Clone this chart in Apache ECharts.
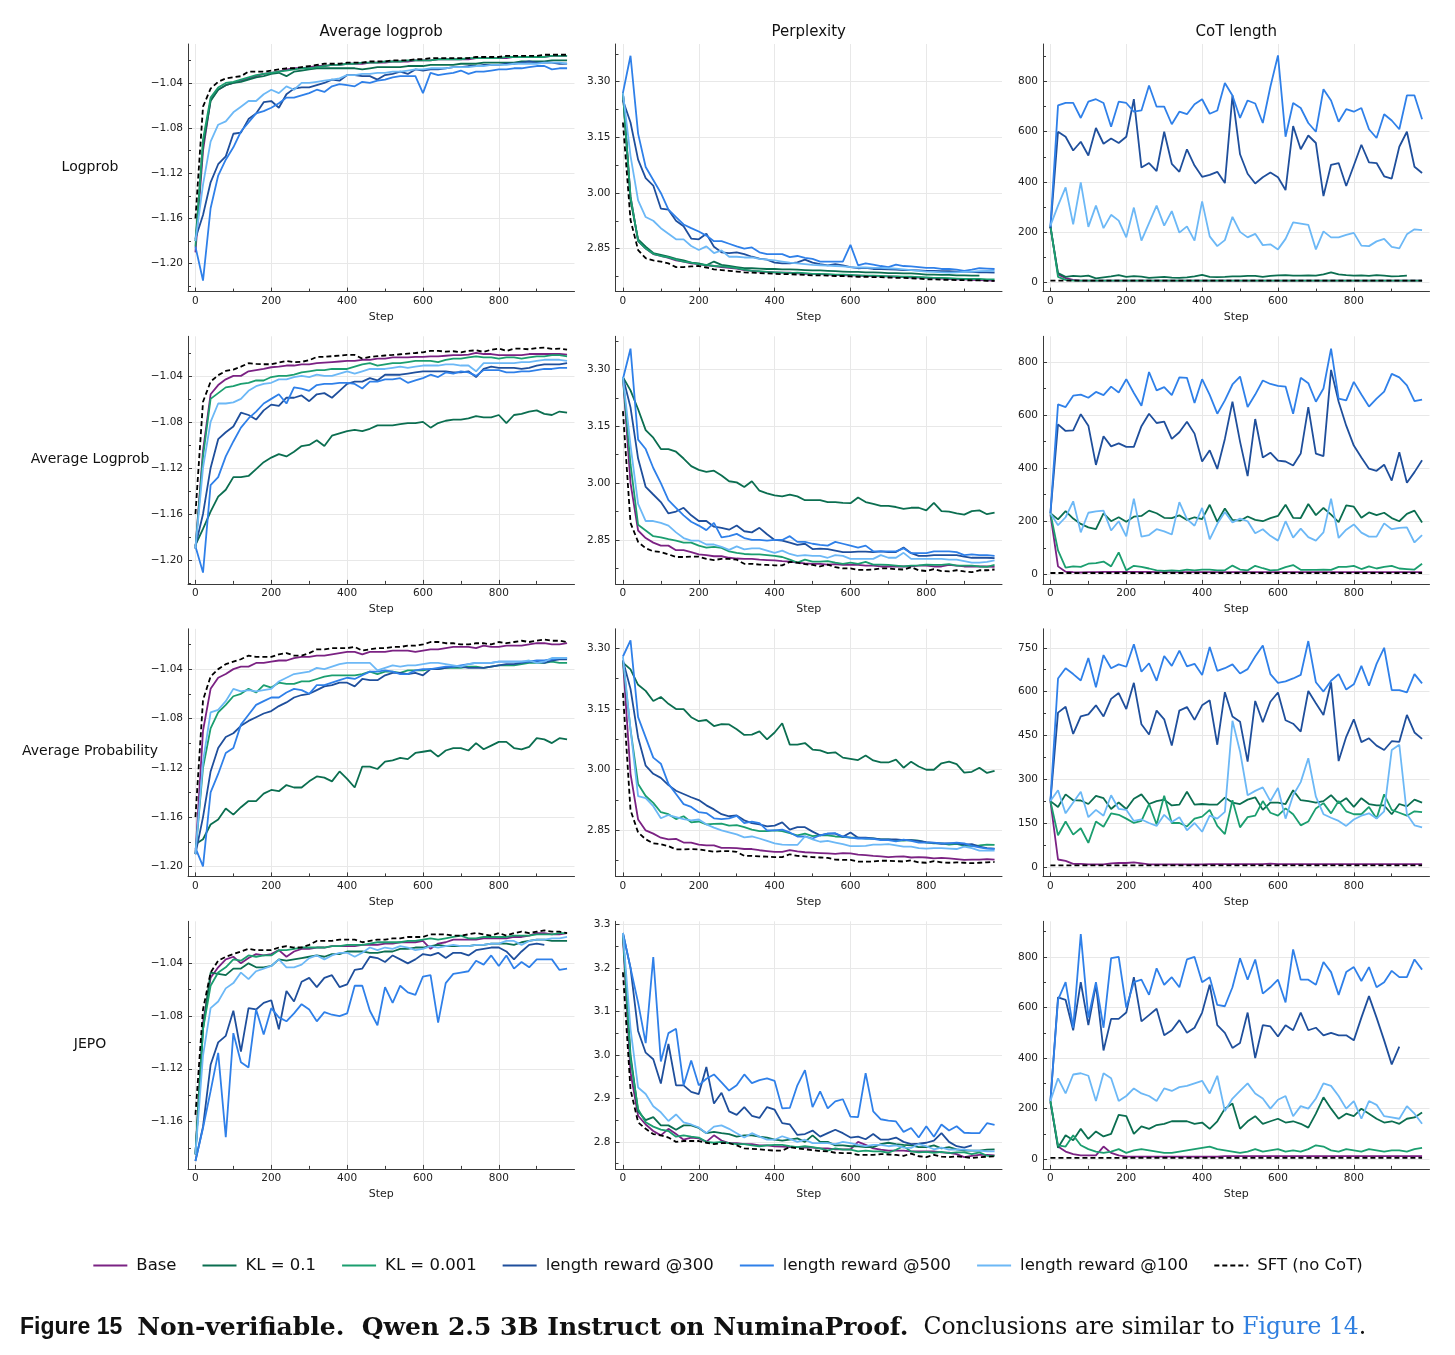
<!DOCTYPE html>
<html>
<head>
<meta charset="utf-8">
<script src="https://cdn.jsdelivr.net/npm/echarts@6/dist/echarts.min.js"></script>
<style>
  html, body { margin: 0; padding: 0; background: #fff; }
  #chart { width: 1455px; height: 1355px; }
</style>
</head>
<body>
<div id="chart"></div>
<script>
// x positions of the points (training step)
const steps = [0,20,40,60,80,100,120,140,160,180,200,220,240,260,280,300,320,340,360,380,
  400,420,440,460,480,500,520,540,560,580,600,620,640,660,680,700,720,740,760,780,
  800,820,840,860,880,900,920,940,960,980];

const seriesNames = ['Base', 'KL = 0.1', 'KL = 0.001', 'length reward @300', 'length reward @500', 'length reward @100', 'SFT (no CoT)'];
const colTitles = ['Average logprob', 'Perplexity', 'CoT length'];
const rowTitles = ['Logprob', 'Average Logprob', 'Average Probability', 'JEPO'];

// tick labels
const stepTicks = [0, 200, 400, 600, 800];
const stepMinor = [100, 300, 500, 700, 900];
const logprobTicks = [-1.20, -1.16, -1.12, -1.08, -1.04];
const logprobMinor = [-1.22, -1.18, -1.14, -1.10, -1.06, -1.02];
const pplTicks = [2.85, 3.00, 3.15, 3.30];
const pplMinor = [2.775, 2.925, 3.075, 3.225, 3.375];
const pplTicksJepo = [2.8, 2.9, 3.0, 3.1, 3.2, 3.3];
const pplMinorJepo = [2.75, 2.85, 2.95, 3.05, 3.15, 3.25];
const cotTicks = [0, 200, 400, 600, 800];
const cotMinor = [100, 300, 500, 700, 900];
const cotTicksProb = [0, 150, 300, 450, 600, 750];
const cotMinorProb = [75, 225, 375, 525, 675];

// ---------- row 1: Logprob ----------
const r1LpBase = [-1.190,-1.100,-1.055,-1.046,-1.042,-1.040,-1.038,-1.036,-1.034,-1.032,
  -1.031,-1.030,-1.028,-1.027,-1.027,-1.026,-1.025,-1.025,-1.024,-1.024,
  -1.023,-1.023,-1.023,-1.022,-1.022,-1.022,-1.021,-1.021,-1.021,-1.020,
  -1.020,-1.020,-1.019,-1.019,-1.019,-1.019,-1.019,-1.018,-1.018,-1.018,
  -1.018,-1.018,-1.017,-1.017,-1.017,-1.017,-1.017,-1.016,-1.016,-1.016];
const r1LpKl01 = [-1.180,-1.095,-1.056,-1.046,-1.042,-1.040,-1.039,-1.037,-1.035,-1.034,
  -1.032,-1.031,-1.034,-1.030,-1.029,-1.028,-1.027,-1.027,-1.027,-1.027,
  -1.027,-1.027,-1.028,-1.027,-1.026,-1.026,-1.026,-1.026,-1.025,-1.025,
  -1.025,-1.024,-1.024,-1.024,-1.024,-1.023,-1.023,-1.023,-1.022,-1.022,
  -1.022,-1.022,-1.022,-1.021,-1.021,-1.021,-1.021,-1.020,-1.020,-1.020];
const r1LpKl0001 = [-1.185,-1.090,-1.053,-1.044,-1.040,-1.039,-1.037,-1.035,-1.033,-1.032,
  -1.031,-1.030,-1.029,-1.028,-1.027,-1.027,-1.026,-1.025,-1.024,-1.024,
  -1.023,-1.023,-1.022,-1.022,-1.022,-1.021,-1.021,-1.021,-1.020,-1.020,
  -1.020,-1.020,-1.019,-1.019,-1.019,-1.019,-1.018,-1.018,-1.018,-1.018,
  -1.018,-1.017,-1.017,-1.017,-1.017,-1.017,-1.017,-1.016,-1.016,-1.016];
const r1LpLr300 = [-1.178,-1.157,-1.128,-1.112,-1.105,-1.085,-1.084,-1.072,-1.067,-1.057,
  -1.056,-1.062,-1.050,-1.045,-1.044,-1.044,-1.042,-1.040,-1.037,-1.038,
  -1.033,-1.033,-1.034,-1.034,-1.037,-1.033,-1.032,-1.030,-1.032,-1.028,
  -1.029,-1.028,-1.028,-1.027,-1.026,-1.026,-1.025,-1.025,-1.024,-1.024,
  -1.024,-1.023,-1.023,-1.022,-1.021,-1.022,-1.022,-1.022,-1.023,-1.023];
const r1LpLr500 = [-1.185,-1.215,-1.151,-1.122,-1.108,-1.097,-1.083,-1.075,-1.067,-1.065,
  -1.062,-1.058,-1.053,-1.053,-1.051,-1.049,-1.046,-1.048,-1.043,-1.041,
  -1.042,-1.043,-1.039,-1.040,-1.038,-1.037,-1.035,-1.034,-1.034,-1.034,
  -1.049,-1.031,-1.033,-1.032,-1.031,-1.029,-1.032,-1.030,-1.030,-1.029,
  -1.028,-1.028,-1.027,-1.027,-1.026,-1.025,-1.025,-1.028,-1.027,-1.027];
const r1LpLr100 = [-1.180,-1.130,-1.092,-1.077,-1.074,-1.066,-1.061,-1.056,-1.056,-1.050,
  -1.046,-1.049,-1.043,-1.046,-1.040,-1.040,-1.039,-1.038,-1.037,-1.036,
  -1.033,-1.033,-1.032,-1.032,-1.031,-1.031,-1.030,-1.030,-1.029,-1.028,
  -1.028,-1.027,-1.027,-1.027,-1.026,-1.026,-1.026,-1.025,-1.025,-1.024,
  -1.024,-1.024,-1.023,-1.023,-1.023,-1.023,-1.022,-1.022,-1.022,-1.023];
const r1LpSft = [-1.160,-1.061,-1.045,-1.039,-1.036,-1.035,-1.034,-1.030,-1.030,-1.030,
  -1.029,-1.028,-1.027,-1.027,-1.026,-1.025,-1.024,-1.023,-1.023,-1.023,
  -1.022,-1.022,-1.022,-1.021,-1.021,-1.021,-1.020,-1.020,-1.020,-1.019,
  -1.019,-1.018,-1.018,-1.018,-1.018,-1.018,-1.018,-1.017,-1.017,-1.017,
  -1.017,-1.016,-1.016,-1.016,-1.016,-1.016,-1.015,-1.015,-1.015,-1.015];

const r1PpBase = [3.270,2.990,2.870,2.850,2.835,2.830,2.825,2.818,2.815,2.810,
  2.808,2.805,2.803,2.800,2.798,2.796,2.792,2.790,2.788,2.787,
  2.786,2.785,2.785,2.783,2.782,2.782,2.781,2.780,2.779,2.778,
  2.778,2.777,2.776,2.776,2.775,2.775,2.774,2.773,2.772,2.772,
  2.771,2.770,2.769,2.768,2.767,2.767,2.766,2.765,2.764,2.763];
const r1PpKl01 = [3.270,2.980,2.875,2.855,2.838,2.833,2.828,2.822,2.818,2.812,
  2.810,2.805,2.815,2.806,2.803,2.800,2.797,2.797,2.796,2.795,
  2.795,2.794,2.794,2.793,2.792,2.791,2.791,2.790,2.789,2.788,
  2.787,2.787,2.786,2.786,2.785,2.784,2.784,2.783,2.783,2.782,
  2.780,2.780,2.779,2.779,2.778,2.778,2.777,2.777];
const r1PpKl0001 = [3.270,2.990,2.870,2.850,2.836,2.830,2.826,2.820,2.815,2.812,
  2.808,2.806,2.803,2.802,2.800,2.797,2.793,2.790,2.789,2.787,
  2.786,2.785,2.784,2.785,2.784,2.782,2.782,2.781,2.780,2.780,
  2.779,2.778,2.777,2.777,2.776,2.775,2.775,2.774,2.774,2.773,
  2.772,2.771,2.771,2.770,2.769,2.768,2.768,2.768,2.767,2.767];
const r1PpLr300 = [3.250,3.190,3.090,3.040,3.020,2.958,2.955,2.925,2.910,2.877,
  2.875,2.890,2.855,2.840,2.838,2.840,2.835,2.828,2.823,2.820,
  2.812,2.810,2.810,2.813,2.820,2.812,2.808,2.805,2.808,2.805,
  2.800,2.797,2.798,2.795,2.795,2.794,2.793,2.792,2.792,2.791,
  2.790,2.790,2.789,2.789,2.788,2.788,2.787,2.786,2.786,2.785];
const r1PpLr500 = [3.270,3.370,3.160,3.070,3.035,3.000,2.955,2.935,2.915,2.905,
  2.896,2.885,2.870,2.870,2.863,2.856,2.850,2.853,2.840,2.835,
  2.835,2.835,2.827,2.830,2.825,2.822,2.815,2.815,2.815,2.815,
  2.860,2.805,2.810,2.807,2.803,2.800,2.807,2.803,2.802,2.800,
  2.798,2.798,2.795,2.795,2.793,2.790,2.793,2.797,2.796,2.795];
const r1PpLr100 = [3.270,3.100,2.980,2.935,2.925,2.905,2.890,2.875,2.875,2.857,
  2.846,2.856,2.838,2.845,2.828,2.828,2.826,2.826,2.822,2.820,
  2.818,2.815,2.812,2.810,2.808,2.806,2.805,2.804,2.803,2.802,
  2.800,2.799,2.799,2.798,2.798,2.797,2.796,2.794,2.792,2.790,
  2.788,2.787,2.786,2.785,2.786,2.787,2.788,2.789,2.790,2.790];
const r1PpSft = [3.190,2.927,2.846,2.824,2.818,2.815,2.810,2.800,2.800,2.802,
  2.803,2.799,2.794,2.792,2.790,2.788,2.786,2.785,2.784,2.783,
  2.782,2.781,2.781,2.780,2.779,2.778,2.778,2.777,2.776,2.776,
  2.775,2.774,2.774,2.773,2.773,2.772,2.771,2.771,2.770,2.769,
  2.767,2.767,2.766,2.766,2.765,2.765,2.764,2.764,2.763,2.763];

const r1CotBase = [220,30,15,8,5,5,5,5,5,5,
  5,5,5,5,5,5,5,5,5,5,
  5,5,5,5,5,5,5,5,5,5,
  5,5,5,5,5,5,5,5,5,5,
  5,5,5,5,5,5,5,5,5,5];
const r1CotKl01 = [220,35,20,24,22,25,14,18,22,27,
  20,23,21,16,18,20,17,16,18,22,
  28,20,19,20,22,22,24,24,20,24,
  26,27,25,25,26,25,30,38,30,27,
  25,26,24,27,25,22,23,25];
const r1CotKl0001 = [225,20,8,5,5,5,5,5,5,5,
  5,5,5,5,5,5,5,5,5,5,
  5,5,5,5,5,5,5,5,5,5,
  5,5,5,5,5,5,5,5,5,5,
  5,5,5,5,5,5,5,5,5,5];
const r1CotLr300 = [215,600,580,525,560,505,615,552,573,555,
  580,730,457,475,443,600,472,440,530,465,
  420,428,440,395,745,510,432,393,418,437,
  418,367,623,530,585,555,343,468,475,383,
  465,548,478,475,422,413,540,600,460,435];
const r1CotLr500 = [220,705,715,715,655,720,730,715,620,720,
  715,680,685,785,700,700,630,680,670,710,
  730,672,685,795,745,655,725,713,635,780,
  905,580,715,695,635,600,770,725,640,690,
  680,695,610,575,670,645,610,745,745,650];
const r1CotLr100 = [225,305,378,230,398,220,305,215,268,245,
  178,297,165,235,305,225,283,197,222,165,
  322,182,143,167,260,200,178,192,147,150,
  130,172,238,233,228,130,202,178,178,188,
  196,145,143,162,172,140,134,190,210,207];
const cotSft = [5,5,5,5,5,5,5,5,5,5,
  5,5,5,5,5,5,5,5,5,5,
  5,5,5,5,5,5,5,5,5,5,
  5,5,5,5,5,5,5,5,5,5,
  5,5,5,5,5,5,5,5,5,5];

// ---------- row 2: Average Logprob ----------
const r2LpBase = [-1.190,-1.105,-1.056,-1.048,-1.043,-1.040,-1.040,-1.036,-1.035,-1.034,
  -1.0325,-1.032,-1.031,-1.031,-1.030,-1.030,-1.029,-1.0285,-1.028,-1.0275,
  -1.027,-1.027,-1.026,-1.026,-1.025,-1.025,-1.024,-1.024,-1.024,-1.0235,
  -1.0235,-1.023,-1.023,-1.0225,-1.022,-1.022,-1.0215,-1.020,-1.021,-1.021,
  -1.022,-1.022,-1.022,-1.022,-1.021,-1.021,-1.021,-1.021,-1.021,-1.0215];
const r2LpKl01 = [-1.187,-1.173,-1.158,-1.145,-1.139,-1.128,-1.128,-1.127,-1.121,-1.115,
  -1.111,-1.108,-1.110,-1.106,-1.101,-1.100,-1.096,-1.101,-1.092,-1.090,
  -1.088,-1.087,-1.088,-1.086,-1.083,-1.083,-1.083,-1.082,-1.081,-1.081,
  -1.080,-1.085,-1.081,-1.079,-1.078,-1.078,-1.077,-1.075,-1.076,-1.076,
  -1.074,-1.081,-1.074,-1.073,-1.071,-1.070,-1.073,-1.074,-1.071,-1.072];
const r2LpKl0001 = [-1.190,-1.110,-1.060,-1.055,-1.050,-1.049,-1.047,-1.046,-1.044,-1.044,
  -1.041,-1.040,-1.040,-1.039,-1.037,-1.036,-1.035,-1.035,-1.034,-1.034,
  -1.034,-1.032,-1.030,-1.029,-1.031,-1.030,-1.029,-1.029,-1.028,-1.027,
  -1.027,-1.027,-1.028,-1.026,-1.025,-1.025,-1.024,-1.023,-1.024,-1.024,
  -1.025,-1.024,-1.024,-1.025,-1.024,-1.023,-1.023,-1.022,-1.022,-1.023];
const r2LpLr300 = [-1.188,-1.160,-1.120,-1.095,-1.089,-1.084,-1.072,-1.074,-1.078,-1.070,
  -1.065,-1.066,-1.059,-1.059,-1.057,-1.062,-1.056,-1.055,-1.059,-1.053,
  -1.047,-1.045,-1.045,-1.042,-1.044,-1.039,-1.039,-1.039,-1.038,-1.037,
  -1.036,-1.036,-1.036,-1.036,-1.037,-1.037,-1.036,-1.041,-1.034,-1.032,
  -1.033,-1.033,-1.033,-1.034,-1.033,-1.031,-1.030,-1.030,-1.030,-1.029];
const r2LpLr500 = [-1.188,-1.211,-1.135,-1.128,-1.110,-1.097,-1.085,-1.077,-1.071,-1.064,
  -1.060,-1.056,-1.064,-1.050,-1.051,-1.053,-1.048,-1.047,-1.047,-1.046,
  -1.046,-1.047,-1.051,-1.045,-1.045,-1.043,-1.043,-1.042,-1.046,-1.044,
  -1.042,-1.039,-1.041,-1.037,-1.038,-1.036,-1.037,-1.040,-1.035,-1.035,
  -1.035,-1.037,-1.037,-1.036,-1.036,-1.035,-1.034,-1.034,-1.033,-1.033];
const r2LpLr100 = [-1.190,-1.120,-1.080,-1.064,-1.064,-1.063,-1.060,-1.053,-1.049,-1.047,
  -1.046,-1.043,-1.043,-1.041,-1.040,-1.041,-1.039,-1.040,-1.040,-1.038,
  -1.036,-1.038,-1.036,-1.034,-1.034,-1.034,-1.033,-1.032,-1.033,-1.032,
  -1.031,-1.031,-1.031,-1.030,-1.030,-1.031,-1.031,-1.036,-1.029,-1.029,
  -1.029,-1.029,-1.029,-1.028,-1.028,-1.027,-1.026,-1.026,-1.026,-1.027];
const r2LpSft = [-1.160,-1.0625,-1.045,-1.0394,-1.0357,-1.0345,-1.032,-1.029,-1.0296,-1.0299,
  -1.0299,-1.0285,-1.027,-1.0281,-1.0278,-1.0264,-1.0235,-1.0235,-1.0229,-1.0223,
  -1.0218,-1.0218,-1.025,-1.0235,-1.0229,-1.0223,-1.0218,-1.0212,-1.0206,-1.0201,
  -1.0195,-1.0183,-1.0183,-1.0189,-1.0186,-1.0195,-1.0183,-1.0178,-1.0192,-1.0172,
  -1.0163,-1.0183,-1.0163,-1.0163,-1.0169,-1.0158,-1.0155,-1.0166,-1.0163,-1.0172];

const r2PpBase = [3.280,3.000,2.875,2.855,2.843,2.835,2.835,2.823,2.823,2.818,
  2.812,2.810,2.807,2.807,2.803,2.801,2.800,2.800,2.798,2.797,
  2.796,2.794,2.793,2.790,2.788,2.787,2.787,2.785,2.786,2.784,
  2.784,2.784,2.782,2.782,2.780,2.780,2.780,2.780,2.780,2.782,
  2.782,2.780,2.780,2.784,2.782,2.780,2.780,2.780,2.780,2.779];
const r2PpKl01 = [3.280,3.245,3.195,3.140,3.120,3.090,3.090,3.083,3.065,3.045,
  3.035,3.030,3.033,3.020,3.005,3.002,2.990,3.005,2.980,2.973,
  2.968,2.965,2.970,2.965,2.955,2.955,2.955,2.950,2.950,2.948,
  2.947,2.962,2.950,2.945,2.940,2.940,2.937,2.932,2.935,2.935,
  2.928,2.948,2.926,2.925,2.920,2.917,2.926,2.928,2.918,2.922];
const r2PpKl0001 = [3.280,3.050,2.890,2.875,2.860,2.857,2.852,2.848,2.843,2.843,
  2.835,2.830,2.832,2.829,2.820,2.816,2.813,2.812,2.812,2.810,
  2.808,2.805,2.798,2.790,2.798,2.793,2.793,2.794,2.790,2.787,
  2.790,2.787,2.792,2.785,2.785,2.784,2.782,2.780,2.782,2.783,
  2.785,2.784,2.784,2.786,2.782,2.782,2.782,2.780,2.779,2.784];
const r2PpLr300 = [3.280,3.200,3.065,2.990,2.970,2.950,2.920,2.925,2.935,2.915,
  2.900,2.900,2.885,2.882,2.877,2.888,2.873,2.870,2.882,2.865,
  2.850,2.848,2.843,2.837,2.840,2.826,2.827,2.826,2.822,2.818,
  2.818,2.819,2.819,2.818,2.820,2.818,2.818,2.830,2.815,2.808,
  2.808,2.810,2.810,2.810,2.810,2.806,2.803,2.803,2.803,2.802];
const r2PpLr500 = [3.275,3.355,3.115,3.090,3.040,3.000,2.955,2.935,2.915,2.898,
  2.888,2.876,2.895,2.857,2.860,2.866,2.855,2.850,2.850,2.848,
  2.850,2.850,2.860,2.845,2.845,2.840,2.837,2.835,2.845,2.840,
  2.835,2.830,2.835,2.820,2.820,2.820,2.820,2.828,2.815,2.815,
  2.815,2.820,2.820,2.820,2.818,2.810,2.812,2.810,2.810,2.808];
const r2PpLr100 = [3.280,3.100,2.945,2.900,2.900,2.895,2.888,2.870,2.855,2.848,
  2.848,2.838,2.838,2.832,2.824,2.833,2.825,2.828,2.828,2.822,
  2.816,2.822,2.813,2.808,2.810,2.808,2.808,2.803,2.810,2.808,
  2.800,2.800,2.800,2.800,2.810,2.803,2.803,2.816,2.800,2.800,
  2.800,2.800,2.800,2.798,2.798,2.794,2.790,2.790,2.792,2.796];
const r2PpSft = [3.190,2.895,2.845,2.828,2.820,2.818,2.812,2.805,2.805,2.806,
  2.806,2.800,2.797,2.800,2.800,2.798,2.787,2.787,2.785,2.784,
  2.783,2.783,2.792,2.790,2.786,2.784,2.780,2.785,2.778,2.775,
  2.775,2.771,2.771,2.772,2.775,2.775,2.773,2.772,2.778,2.770,
  2.768,2.773,2.768,2.767,2.770,2.767,2.765,2.770,2.770,2.772];

const r2CotBase = [225,30,10,8,7,8,8,9,9,9,
  9,9,9,9,8,8,8,8,8,8,
  8,8,8,8,8,8,8,8,8,8,
  8,8,8,8,8,8,8,8,8,8,
  8,8,8,8,8,8,8,8,8,8];
const r2CotKl01 = [230,207,238,210,190,177,170,230,200,215,
  198,217,220,240,230,213,212,222,205,215,
  208,262,198,248,205,202,218,205,200,212,
  220,262,213,212,265,223,250,225,197,260,
  255,213,233,223,232,212,200,228,240,195];
const r2CotKl0001 = [230,90,25,30,28,40,42,48,30,83,
  15,32,28,22,15,13,15,13,18,15,
  18,18,15,15,33,18,15,32,23,15,
  17,27,35,17,17,17,18,17,28,28,
  32,20,30,22,28,32,22,20,18,40];
const r2CotLr300 = [230,565,540,542,603,560,412,520,482,493,
  480,480,558,605,570,575,510,535,575,530,
  425,467,397,510,650,500,370,585,440,458,
  428,425,410,455,630,455,445,770,650,560,
  485,440,398,390,413,353,460,345,385,430];
const r2CotLr500 = [230,640,630,673,677,665,687,675,707,685,
  735,683,635,762,693,705,675,742,740,645,
  735,676,605,655,715,745,630,677,730,717,
  710,707,605,740,720,650,700,850,662,655,
  725,677,632,662,688,755,742,712,652,658];
const r2CotLr100 = [230,185,215,275,158,232,237,240,165,200,
  143,285,142,148,170,162,150,272,208,183,
  250,132,190,235,195,210,200,155,170,145,
  127,200,138,172,140,127,158,285,137,168,
  188,157,142,142,192,170,175,177,120,148];

// ---------- row 3: Average Probability ----------
const r3LpBase = [-1.190,-1.090,-1.056,-1.047,-1.044,-1.040,-1.038,-1.038,-1.035,-1.035,
  -1.034,-1.033,-1.033,-1.031,-1.030,-1.030,-1.029,-1.029,-1.028,-1.027,
  -1.026,-1.026,-1.028,-1.026,-1.026,-1.026,-1.025,-1.025,-1.025,-1.026,
  -1.025,-1.024,-1.024,-1.023,-1.022,-1.022,-1.022,-1.023,-1.021,-1.022,
  -1.022,-1.021,-1.021,-1.021,-1.020,-1.019,-1.019,-1.020,-1.020,-1.019];
const r3LpKl01 = [-1.182,-1.178,-1.166,-1.162,-1.153,-1.158,-1.152,-1.147,-1.147,-1.141,
  -1.138,-1.139,-1.134,-1.136,-1.136,-1.131,-1.127,-1.128,-1.131,-1.123,
  -1.129,-1.136,-1.119,-1.119,-1.121,-1.115,-1.114,-1.112,-1.113,-1.108,
  -1.107,-1.106,-1.111,-1.106,-1.104,-1.104,-1.106,-1.100,-1.105,-1.102,
  -1.099,-1.099,-1.104,-1.105,-1.103,-1.096,-1.097,-1.100,-1.096,-1.097];
const r3LpKl0001 = [-1.190,-1.120,-1.088,-1.075,-1.069,-1.062,-1.060,-1.056,-1.059,-1.053,
  -1.055,-1.051,-1.052,-1.052,-1.050,-1.050,-1.048,-1.046,-1.045,-1.045,
  -1.045,-1.045,-1.044,-1.042,-1.044,-1.042,-1.042,-1.043,-1.041,-1.041,
  -1.041,-1.040,-1.040,-1.039,-1.039,-1.039,-1.038,-1.038,-1.039,-1.038,
  -1.037,-1.037,-1.037,-1.036,-1.035,-1.035,-1.035,-1.034,-1.035,-1.035];
const r3LpLr300 = [-1.190,-1.160,-1.123,-1.104,-1.095,-1.092,-1.086,-1.082,-1.079,-1.076,
  -1.074,-1.070,-1.067,-1.063,-1.061,-1.060,-1.057,-1.054,-1.053,-1.051,
  -1.051,-1.054,-1.048,-1.049,-1.049,-1.045,-1.043,-1.043,-1.044,-1.043,
  -1.045,-1.040,-1.040,-1.039,-1.038,-1.038,-1.039,-1.039,-1.039,-1.038,
  -1.037,-1.036,-1.036,-1.035,-1.034,-1.034,-1.035,-1.033,-1.032,-1.032];
const r3LpLr500 = [-1.185,-1.200,-1.140,-1.125,-1.108,-1.104,-1.085,-1.077,-1.069,-1.066,
  -1.063,-1.063,-1.059,-1.056,-1.057,-1.060,-1.053,-1.053,-1.051,-1.049,
  -1.047,-1.048,-1.045,-1.042,-1.042,-1.041,-1.042,-1.044,-1.044,-1.041,
  -1.040,-1.040,-1.039,-1.038,-1.038,-1.037,-1.036,-1.035,-1.035,-1.035,
  -1.034,-1.034,-1.034,-1.034,-1.034,-1.033,-1.033,-1.032,-1.031,-1.031];
const r3LpLr100 = [-1.190,-1.115,-1.075,-1.073,-1.066,-1.056,-1.058,-1.057,-1.058,-1.057,
  -1.056,-1.050,-1.047,-1.044,-1.043,-1.042,-1.039,-1.040,-1.038,-1.036,
  -1.035,-1.035,-1.035,-1.035,-1.041,-1.039,-1.037,-1.038,-1.037,-1.037,
  -1.036,-1.035,-1.035,-1.036,-1.037,-1.038,-1.036,-1.035,-1.035,-1.035,
  -1.034,-1.034,-1.034,-1.034,-1.033,-1.035,-1.034,-1.031,-1.031,-1.031];
const r3LpSft = [-1.160,-1.065,-1.046,-1.040,-1.036,-1.034,-1.032,-1.029,-1.030,-1.030,
  -1.030,-1.028,-1.027,-1.029,-1.029,-1.027,-1.024,-1.024,-1.023,-1.023,
  -1.023,-1.022,-1.025,-1.024,-1.023,-1.023,-1.022,-1.022,-1.021,-1.021,
  -1.020,-1.018,-1.018,-1.019,-1.019,-1.020,-1.020,-1.019,-1.019,-1.020,
  -1.018,-1.019,-1.018,-1.017,-1.018,-1.017,-1.016,-1.017,-1.017,-1.018];

const r3PpBase = [3.270,2.990,2.877,2.850,2.842,2.832,2.828,2.829,2.820,2.820,
  2.815,2.813,2.813,2.807,2.807,2.806,2.804,2.804,2.801,2.799,
  2.797,2.797,2.801,2.798,2.796,2.795,2.794,2.793,2.792,2.794,
  2.793,2.790,2.789,2.787,2.786,2.784,2.785,2.786,2.783,2.784,
  2.783,2.781,2.782,2.781,2.779,2.777,2.778,2.778,2.779,2.778];
const r3PpKl01 = [3.265,3.248,3.210,3.195,3.170,3.180,3.163,3.150,3.150,3.130,
  3.120,3.123,3.108,3.113,3.112,3.100,3.086,3.087,3.095,3.075,
  3.092,3.115,3.062,3.062,3.066,3.050,3.048,3.041,3.043,3.030,
  3.027,3.024,3.035,3.023,3.018,3.018,3.025,3.005,3.020,3.008,
  3.000,3.000,3.016,3.020,3.014,2.993,2.995,3.005,2.992,2.997];
const r3PpKl0001 = [3.270,3.100,2.965,2.935,2.918,2.895,2.890,2.878,2.885,2.870,
  2.872,2.865,2.866,2.867,2.862,2.863,2.858,2.852,2.848,2.848,
  2.850,2.848,2.843,2.838,2.842,2.836,2.838,2.838,2.835,2.834,
  2.832,2.832,2.830,2.830,2.828,2.828,2.825,2.825,2.826,2.825,
  2.820,2.818,2.818,2.815,2.817,2.812,2.812,2.813,2.815,2.814];
const r3PpLr300 = [3.270,3.200,3.080,3.010,2.990,2.980,2.962,2.948,2.940,2.932,
  2.925,2.912,2.902,2.890,2.885,2.887,2.875,2.868,2.865,2.860,
  2.862,2.870,2.852,2.858,2.858,2.847,2.838,2.842,2.842,2.834,
  2.845,2.832,2.832,2.830,2.828,2.828,2.828,2.826,2.826,2.824,
  2.821,2.819,2.817,2.818,2.818,2.815,2.816,2.810,2.806,2.805];
const r3PpLr500 = [3.280,3.320,3.130,3.080,3.030,3.015,2.965,2.940,2.915,2.908,
  2.895,2.893,2.880,2.878,2.880,2.886,2.868,2.872,2.868,2.850,
  2.850,2.852,2.845,2.835,2.835,2.830,2.838,2.842,2.843,2.835,
  2.832,2.830,2.830,2.829,2.826,2.826,2.823,2.827,2.824,2.820,
  2.820,2.820,2.818,2.818,2.820,2.818,2.812,2.808,2.805,2.804];
const r3PpLr100 = [3.280,3.100,2.935,2.930,2.910,2.880,2.888,2.883,2.878,2.875,
  2.877,2.865,2.857,2.850,2.845,2.840,2.833,2.835,2.830,2.824,
  2.818,2.815,2.814,2.814,2.835,2.828,2.822,2.824,2.820,2.816,
  2.811,2.811,2.812,2.815,2.815,2.816,2.813,2.810,2.810,2.806,
  2.805,2.806,2.806,2.805,2.804,2.810,2.806,2.800,2.800,2.800];
const r3PpSft = [3.190,2.900,2.845,2.828,2.818,2.816,2.811,2.803,2.803,2.804,
  2.803,2.800,2.797,2.799,2.799,2.797,2.787,2.787,2.786,2.785,
  2.784,2.784,2.791,2.787,2.786,2.784,2.783,2.782,2.778,2.777,
  2.777,2.773,2.773,2.773,2.775,2.775,2.774,2.773,2.776,2.771,
  2.770,2.774,2.771,2.770,2.771,2.770,2.769,2.770,2.771,2.772];

const r3CotBase = [225,25,20,10,10,8,8,8,12,13,
  13,15,12,8,8,8,8,8,8,8,
  8,9,9,9,9,9,9,9,9,11,
  9,9,9,9,9,9,9,9,9,9,
  9,9,9,9,9,9,9,9,9,9];
const r3CotKl01 = [225,205,248,228,227,215,243,235,198,220,
  198,233,248,215,225,230,210,213,257,213,
  215,213,213,237,220,215,230,238,195,220,
  220,215,262,228,225,220,225,245,218,235,
  205,235,215,210,210,180,215,207,230,220];
const r3CotKl0001 = [225,108,155,110,132,82,155,137,183,178,
  165,150,157,215,145,243,150,150,138,165,
  172,195,140,112,228,135,170,175,225,185,
  175,200,180,142,155,200,218,183,225,190,
  180,180,205,165,248,195,185,175,190,187];
const r3CotLr300 = [225,528,548,455,515,522,553,515,575,595,
  540,630,488,453,535,505,415,535,547,503,
  553,570,418,598,515,497,360,568,495,565,
  597,502,490,463,602,560,520,632,362,445,
  505,427,440,415,400,430,428,520,460,438];
const r3CotLr500 = [225,645,680,660,638,715,615,725,680,693,
  685,762,668,697,637,722,688,740,686,695,
  657,753,671,680,693,662,677,720,758,660,
  630,635,645,657,773,632,600,637,660,607,
  625,688,620,695,750,605,605,597,660,628];
const r3CotLr100 = [225,262,183,220,257,170,195,175,245,198,
  195,157,162,150,140,178,153,170,125,150,
  120,175,165,188,500,395,245,260,272,225,
  270,165,245,290,372,240,180,168,157,140,
  162,175,183,165,190,400,418,180,142,135];

// ---------- row 4: JEPO ----------
const r4LpBase = [-1.185,-1.085,-1.051,-1.043,-1.037,-1.035,-1.040,-1.036,-1.033,-1.034,
  -1.033,-1.030,-1.035,-1.031,-1.029,-1.029,-1.028,-1.028,-1.027,-1.027,
  -1.027,-1.027,-1.026,-1.026,-1.026,-1.025,-1.025,-1.024,-1.024,-1.024,
  -1.023,-1.029,-1.025,-1.024,-1.022,-1.022,-1.022,-1.022,-1.021,-1.021,
  -1.021,-1.021,-1.020,-1.020,-1.019,-1.017,-1.017,-1.018,-1.018,-1.017];
const r4LpKl01 = [-1.185,-1.090,-1.047,-1.048,-1.049,-1.044,-1.044,-1.040,-1.043,-1.043,
  -1.042,-1.037,-1.038,-1.037,-1.036,-1.035,-1.034,-1.035,-1.033,-1.033,
  -1.031,-1.031,-1.031,-1.032,-1.032,-1.031,-1.031,-1.029,-1.029,-1.028,
  -1.028,-1.027,-1.026,-1.027,-1.027,-1.027,-1.027,-1.026,-1.026,-1.025,
  -1.025,-1.025,-1.026,-1.024,-1.023,-1.022,-1.022,-1.023,-1.023,-1.023];
const r4LpKl0001 = [-1.185,-1.090,-1.057,-1.047,-1.043,-1.037,-1.038,-1.034,-1.035,-1.034,
  -1.034,-1.030,-1.030,-1.029,-1.028,-1.028,-1.028,-1.028,-1.027,-1.027,
  -1.026,-1.026,-1.026,-1.025,-1.024,-1.024,-1.024,-1.024,-1.023,-1.023,
  -1.022,-1.021,-1.022,-1.021,-1.020,-1.019,-1.021,-1.021,-1.020,-1.020,
  -1.020,-1.020,-1.019,-1.019,-1.019,-1.018,-1.018,-1.018,-1.017,-1.017];
const r4LpLr300 = [-1.190,-1.164,-1.117,-1.100,-1.095,-1.076,-1.107,-1.074,-1.075,-1.070,
  -1.068,-1.090,-1.061,-1.069,-1.054,-1.051,-1.058,-1.051,-1.049,-1.058,
  -1.056,-1.045,-1.044,-1.035,-1.036,-1.039,-1.034,-1.037,-1.040,-1.037,
  -1.033,-1.034,-1.032,-1.036,-1.032,-1.032,-1.034,-1.030,-1.029,-1.028,
  -1.028,-1.031,-1.037,-1.031,-1.026,-1.025,-1.026];
const r4LpLr500 = [-1.190,-1.165,-1.137,-1.108,-1.172,-1.093,-1.115,-1.119,-1.075,-1.094,
  -1.074,-1.081,-1.084,-1.078,-1.071,-1.075,-1.084,-1.077,-1.079,-1.080,
  -1.078,-1.057,-1.057,-1.076,-1.087,-1.058,-1.070,-1.057,-1.062,-1.064,
  -1.050,-1.049,-1.085,-1.055,-1.048,-1.047,-1.046,-1.038,-1.041,-1.034,
  -1.042,-1.034,-1.044,-1.039,-1.043,-1.037,-1.037,-1.037,-1.045,-1.044];
const r4LpLr100 = [-1.185,-1.110,-1.074,-1.069,-1.059,-1.055,-1.047,-1.052,-1.046,-1.044,
  -1.042,-1.037,-1.043,-1.043,-1.041,-1.036,-1.034,-1.037,-1.034,-1.032,
  -1.032,-1.035,-1.032,-1.028,-1.030,-1.028,-1.029,-1.027,-1.028,-1.030,
  -1.029,-1.027,-1.028,-1.027,-1.026,-1.027,-1.027,-1.026,-1.026,-1.025,
  -1.025,-1.023,-1.023,-1.026,-1.023,-1.022,-1.022,-1.021,-1.021,-1.020];
const r4LpSft = [-1.155,-1.075,-1.047,-1.038,-1.035,-1.033,-1.031,-1.029,-1.030,-1.030,
  -1.030,-1.028,-1.027,-1.028,-1.028,-1.026,-1.023,-1.023,-1.023,-1.022,
  -1.022,-1.022,-1.024,-1.023,-1.022,-1.022,-1.021,-1.021,-1.020,-1.020,
  -1.020,-1.018,-1.018,-1.018,-1.019,-1.019,-1.018,-1.017,-1.018,-1.019,
  -1.017,-1.019,-1.017,-1.016,-1.017,-1.016,-1.015,-1.016,-1.016,-1.017];

const r4PpBase = [3.270,2.960,2.860,2.840,2.825,2.815,2.830,2.818,2.805,2.810,
  2.808,2.800,2.815,2.803,2.797,2.797,2.795,2.795,2.792,2.792,
  2.790,2.789,2.788,2.788,2.787,2.787,2.785,2.785,2.783,2.783,
  2.783,2.800,2.793,2.785,2.782,2.780,2.780,2.780,2.778,2.778,
  2.778,2.778,2.776,2.775,2.772,2.765,2.768,2.770,2.770,2.769];
const r4PpKl01 = [3.280,3.000,2.870,2.850,2.857,2.838,2.838,2.828,2.838,2.838,
  2.832,2.820,2.823,2.820,2.818,2.812,2.815,2.815,2.812,2.810,
  2.805,2.803,2.805,2.808,2.800,2.815,2.800,2.800,2.792,2.792,
  2.790,2.790,2.788,2.788,2.795,2.798,2.795,2.793,2.792,2.788,
  2.788,2.792,2.785,2.788,2.783,2.780,2.780,2.780,2.782,2.783];
const r4PpKl0001 = [3.280,2.990,2.875,2.845,2.835,2.828,2.825,2.812,2.815,2.812,
  2.810,2.800,2.798,2.800,2.797,2.795,2.795,2.792,2.790,2.792,
  2.793,2.793,2.790,2.788,2.790,2.788,2.785,2.780,2.785,2.782,
  2.782,2.778,2.780,2.778,2.778,2.775,2.782,2.790,2.778,2.776,
  2.777,2.775,2.777,2.774,2.776,2.776,2.772,2.776,2.768,2.768];
const r4PpLr300 = [3.280,3.200,3.055,3.005,2.990,2.934,3.025,2.930,2.930,2.915,
  2.910,2.972,2.888,2.913,2.870,2.862,2.880,2.860,2.855,2.880,
  2.874,2.843,2.840,2.816,2.818,2.826,2.812,2.820,2.828,2.820,
  2.810,2.812,2.806,2.818,2.805,2.805,2.810,2.800,2.795,2.796,
  2.798,2.803,2.820,2.800,2.790,2.787,2.792];
const r4PpLr500 = [3.280,3.200,3.120,3.027,3.225,2.985,3.050,3.060,2.930,2.987,
  2.930,2.945,2.955,2.937,2.918,2.930,2.955,2.935,2.942,2.946,
  2.940,2.877,2.878,2.930,2.965,2.880,2.916,2.877,2.893,2.898,
  2.858,2.857,2.958,2.870,2.852,2.849,2.847,2.823,2.832,2.810,
  2.836,2.812,2.840,2.826,2.836,2.821,2.820,2.820,2.843,2.839];
const r4PpLr100 = [3.280,3.060,2.925,2.910,2.882,2.868,2.848,2.863,2.845,2.840,
  2.833,2.820,2.835,2.838,2.830,2.820,2.810,2.820,2.812,2.805,
  2.805,2.813,2.807,2.800,2.805,2.797,2.797,2.797,2.795,2.800,
  2.797,2.793,2.790,2.793,2.793,2.790,2.792,2.787,2.786,2.795,
  2.790,2.783,2.787,2.782,2.783,2.782,2.780,2.780,2.778,2.778];
const r4PpSft = [3.190,2.920,2.845,2.830,2.818,2.815,2.810,2.800,2.802,2.802,
  2.802,2.798,2.795,2.797,2.797,2.792,2.785,2.784,2.783,2.781,
  2.780,2.780,2.788,2.785,2.783,2.781,2.779,2.778,2.775,2.774,
  2.774,2.770,2.770,2.770,2.772,2.771,2.770,2.768,2.773,2.767,
  2.765,2.770,2.766,2.765,2.767,2.765,2.763,2.765,2.766,2.767];

const r4CotBase = [225,50,30,20,15,15,15,50,25,15,
  10,10,10,10,10,10,10,10,10,10,
  10,10,10,12,12,12,12,12,12,12,
  12,12,12,12,12,12,12,12,12,12,
  12,12,12,12,12,12,12,12,12,12];
const r4CotKl01 = [230,45,95,75,120,80,110,90,100,175,
  170,100,130,120,135,140,150,150,150,140,
  145,120,150,200,220,120,150,170,140,150,
  160,145,150,140,125,180,245,200,160,180,
  170,200,180,160,145,150,140,160,165,185];
const r4CotKl0001 = [230,55,50,95,55,40,30,25,30,40,
  25,35,40,35,30,25,25,30,35,40,
  45,50,40,35,30,25,30,40,30,35,
  40,30,35,30,40,55,50,35,30,40,
  35,30,40,35,30,35,35,30,40,45];
const r4CotLr300 = [230,640,630,510,700,530,690,430,555,555,
  580,720,545,570,595,490,510,550,500,520,
  580,690,530,500,440,460,580,400,530,525,
  485,530,510,580,510,520,490,500,490,490,
  470,560,645,560,470,375,445];
const r4CotLr500 = [230,630,700,520,890,560,700,520,795,800,
  600,700,710,650,755,690,720,680,790,800,
  700,720,610,605,680,795,710,790,655,680,
  710,620,830,710,710,690,780,740,650,740,
  760,705,760,680,700,745,720,720,790,750];
const r4CotLr100 = [230,320,260,335,340,330,230,340,320,230,
  250,280,260,250,230,280,270,285,290,300,
  310,260,330,190,240,270,300,260,240,200,
  235,250,170,210,200,240,300,290,250,200,
  230,160,230,215,170,165,160,210,180,140];

// panels: [row][col] -> series arrays in legend order
const panelData = [
  [[r1LpBase, r1LpKl01, r1LpKl0001, r1LpLr300, r1LpLr500, r1LpLr100, r1LpSft],
   [r1PpBase, r1PpKl01, r1PpKl0001, r1PpLr300, r1PpLr500, r1PpLr100, r1PpSft],
   [r1CotBase, r1CotKl01, r1CotKl0001, r1CotLr300, r1CotLr500, r1CotLr100, cotSft]],
  [[r2LpBase, r2LpKl01, r2LpKl0001, r2LpLr300, r2LpLr500, r2LpLr100, r2LpSft],
   [r2PpBase, r2PpKl01, r2PpKl0001, r2PpLr300, r2PpLr500, r2PpLr100, r2PpSft],
   [r2CotBase, r2CotKl01, r2CotKl0001, r2CotLr300, r2CotLr500, r2CotLr100, cotSft]],
  [[r3LpBase, r3LpKl01, r3LpKl0001, r3LpLr300, r3LpLr500, r3LpLr100, r3LpSft],
   [r3PpBase, r3PpKl01, r3PpKl0001, r3PpLr300, r3PpLr500, r3PpLr100, r3PpSft],
   [r3CotBase, r3CotKl01, r3CotKl0001, r3CotLr300, r3CotLr500, r3CotLr100, cotSft]],
  [[r4LpBase, r4LpKl01, r4LpKl0001, r4LpLr300, r4LpLr500, r4LpLr100, r4LpSft],
   [r4PpBase, r4PpKl01, r4PpKl0001, r4PpLr300, r4PpLr500, r4PpLr100, r4PpSft],
   [r4CotBase, r4CotKl01, r4CotKl0001, r4CotLr300, r4CotLr500, r4CotLr100, cotSft]]
];

// layout
const colLeft = [188, 615.5, 1043];
const rowTop = [44, 336.3, 628.8, 921.3];
const plotW = 386.5, plotH = 247.6;
const xMin = -19.6, xMax = 999.6;
const yRanges = [
  [[-1.2248, -1.0055], [2.734, 3.4016], [-38.7, 950.6]],
  [[-1.2208, -1.0056], [2.734, 3.3877], [-36, 896.5]],
  [[-1.2081, -1.0073], [2.7363, 3.3485], [-32.9, 815]],
  [[-1.196, -1.0081], [2.7379, 3.307], [-38.4, 941]]
];
const colors = ['#7b2283', '#0b6e50', '#1b9e6f', '#1f4f9c', '#2f80e9', '#6cb8f6', '#000000'];
const font = 'DejaVu Sans';
const axisColor = '#3a3a3a';
const gridColor = '#e8e8e8';

function yTicksFor(r, c) {
  if (c === 0) return r === 3 ? [logprobTicks.slice(1), logprobMinor] : [logprobTicks, logprobMinor];
  if (c === 1) return r === 3 ? [pplTicksJepo, pplMinorJepo] : [pplTicks, pplMinor];
  return r === 2 ? [cotTicksProb, cotMinorProb] : [cotTicks, cotMinor];
}
function yFormatter(r, c) {
  if (c === 0) return v => v.toFixed(2).replace('-', '\u2212');
  if (c === 1) return r === 3 ? (v => v.toFixed(1)) : (v => v.toFixed(2));
  return v => String(v);
}

const grids = [], xAxes = [], yAxes = [], series = [];
for (let r = 0; r < 4; r++) {
  for (let c = 0; c < 3; c++) {
    const gi = grids.length;
    const [yMin, yMax] = yRanges[r][c];
    const [yMajor, yMinorAll] = yTicksFor(r, c);
    const yMinor = yMinorAll.filter(v => v > yMin && v < yMax);
    grids.push({ left: colLeft[c], top: rowTop[r], width: plotW, height: plotH, outerBoundsMode: 'none' });

    xAxes.push({
      type: 'value', gridIndex: gi, position: 'bottom', min: xMin, max: xMax,
      name: 'Step', nameLocation: 'middle', nameGap: 20,
      nameTextStyle: { fontFamily: font, fontSize: 11, color: '#222' },
      axisLine: { onZero: false, lineStyle: { color: axisColor, width: 1 } },
      axisTick: { show: true, inside: true, length: 4, customValues: stepTicks, lineStyle: { color: axisColor } },
      axisLabel: { customValues: stepTicks, margin: 4, fontFamily: font, fontSize: 10.5, color: '#222' },
      splitLine: { show: true, lineStyle: { color: gridColor, width: 1 } }
    });
    xAxes.push({
      type: 'value', gridIndex: gi, position: 'bottom', min: xMin, max: xMax,
      axisLine: { show: false, onZero: false },
      axisTick: { show: true, inside: true, length: 3, customValues: stepMinor, lineStyle: { color: axisColor } },
      axisLabel: { show: false }, splitLine: { show: false }
    });
    yAxes.push({
      type: 'value', gridIndex: gi, position: 'left', min: yMin, max: yMax,
      axisLine: { onZero: false, lineStyle: { color: axisColor, width: 1 } },
      axisTick: { show: true, inside: true, length: 4, customValues: yMajor, lineStyle: { color: axisColor } },
      axisLabel: { customValues: yMajor, margin: 5, fontFamily: font, fontSize: 10.5, color: '#222', formatter: yFormatter(r, c) },
      splitLine: { show: true, lineStyle: { color: gridColor, width: 1 } }
    });
    yAxes.push({
      type: 'value', gridIndex: gi, position: 'left', min: yMin, max: yMax,
      axisLine: { show: false, onZero: false },
      axisTick: { show: true, inside: true, length: 3, customValues: yMinor, lineStyle: { color: axisColor } },
      axisLabel: { show: false }, splitLine: { show: false }
    });

    panelData[r][c].forEach((arr, k) => {
      series.push({
        type: 'line', name: seriesNames[k],
        xAxisIndex: 2 * gi, yAxisIndex: 2 * gi,
        data: arr.map((v, i) => [steps[i], v]),
        symbol: 'none', showSymbol: false, silent: true,
        lineStyle: { color: colors[k], width: 1.8, type: k === 6 ? [5, 3] : 'solid' },
        itemStyle: { color: colors[k] }
      });
    });
  }
}

const graphics = [];
colTitles.forEach((t, c) => {
  graphics.push({ type: 'text', x: colLeft[c] + plotW / 2, y: 32,
    style: { text: t, font: '15px "DejaVu Sans"', fill: '#111', textAlign: 'center', textVerticalAlign: 'middle' } });
});
rowTitles.forEach((t, r) => {
  graphics.push({ type: 'text', x: 90, y: rowTop[r] + 123,
    style: { text: t, font: '14px "DejaVu Sans"', fill: '#111', textAlign: 'center', textVerticalAlign: 'middle' } });
});
graphics.push({
  type: 'text', x: 20, y: 1328,
  style: {
    text: '{a|Figure 15}{b|Non-verifiable.  Qwen 2.5 3B Instruct on NuminaProof.}{c|Conclusions are similar to }{d|Figure 14}{c|.}',
    textVerticalAlign: 'middle',
    rich: {
      a: { fontFamily: 'Liberation Sans', fontWeight: 'bold', fontSize: 23, fill: '#111', padding: [0, 15, 0, 0] },
      b: { fontFamily: 'DejaVu Serif', fontWeight: 'bold', fontSize: 25, fill: '#111', padding: [0, 15, 0, 0] },
      c: { fontFamily: 'DejaVu Serif', fontSize: 23.5, fill: '#111' },
      d: { fontFamily: 'DejaVu Serif', fontSize: 23.5, fill: '#2f7fe0' }
    }
  }
});

const chart = echarts.init(document.getElementById('chart'));
chart.setOption({
  backgroundColor: '#ffffff',
  animation: false,
  grid: grids,
  xAxis: xAxes,
  yAxis: yAxes,
  legend: {
    data: seriesNames, left: 'center', top: 1252,
    itemWidth: 34, itemHeight: 14, itemGap: 25,
    itemStyle: { opacity: 0 },
    textStyle: { fontFamily: font, fontSize: 16.5, color: '#111', padding: [0, 0, 0, 4] }
  },
  graphic: graphics,
  series: series
});
</script>
</body>
</html>
